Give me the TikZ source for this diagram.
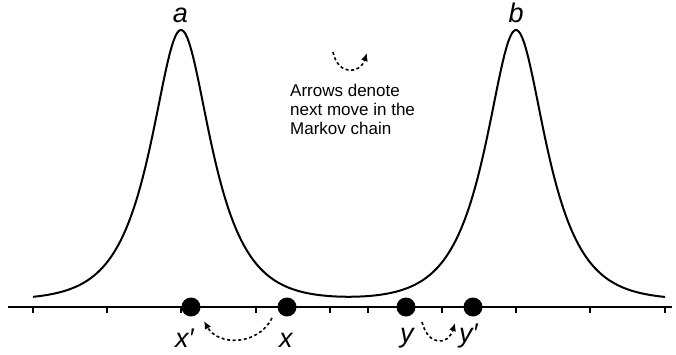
\documentclass[tikz,border=0pt]{standalone}
\usepackage{fontspec}
\setmainfont{Liberation Sans}
\newfontfamily\labfont{Liberation Sans}
\usetikzlibrary{arrows.meta}
\begin{document}
\begin{tikzpicture}[x=1pt,y=-1pt,
  declare function={pk(\d)=exp(0.75*(0.6931-min(abs(\d)/22.3,12)-ln(1+exp(-2*min(abs(\d)/22.3,12)))));},
  dot/.style={circle,fill=black,inner sep=0pt,minimum size=19pt},
  lab/.style={font=\labfont\itshape\fontsize{27}{27}\selectfont,inner sep=0pt},
  mv/.style={line width=1.6pt,dash pattern=on 3pt off 2.6pt,-{Latex[length=8pt,width=7pt]}},
  tickmark/.style={line width=1.2pt}]
\useasboundingbox (0,0) rectangle (676,354);
% density curve
\draw[line width=2pt,line join=round]
  plot[domain=33:665,samples=320] (\x,{300-270*(pk(\x-181)+pk(\x-516))});
% axis
\draw[line width=1.5pt] (8,307) -- (672,307);
\foreach \t in {33,107,181,256,330,368,442,516,590,665}
  \draw[tickmark] (\t,307) -- (\t,313);
% points
\node[dot] (xp) at (191,307) {};
\node[dot] (x) at (287,307) {};
\node[dot] (y) at (406,307) {};
\node[dot] (yp) at (473,307) {};
% labels
\node[lab,anchor=base] (la) at (180.5,22) {a};
\node[lab,anchor=base] (lb) at (516,22) {b};
\node[lab,anchor=base west] (lxp) at (175,347) {x′};
\node[lab,anchor=base west] (lx) at (279,347) {x};
\node[lab,anchor=base west] (ly) at (400,342) {y};
\node[lab,anchor=base west] (lyp) at (459,342) {y′};
% move arrows
\coordinate (xs) at (272,318);
\coordinate (xe) at (204,321);
\draw[mv] (xs) .. controls (258,346) and (218,346) .. (xe);
\coordinate (ys) at (422,322);
\coordinate (ye) at (455,323);
\draw[mv] (ys) .. controls (428,346) and (448,346) .. (ye);
\coordinate (ls) at (333,52);
\coordinate (le) at (367,53);
\draw[mv] (ls) .. controls (338,76) and (360,74) .. (le);
% legend text
\node[anchor=base west,align=left,inner sep=0pt,font=\fontsize{17}{19}\selectfont] (legend) at (290,134.3)
  {Arrows denote\\next move in the\\Markov chain};
\end{tikzpicture}
\end{document}
